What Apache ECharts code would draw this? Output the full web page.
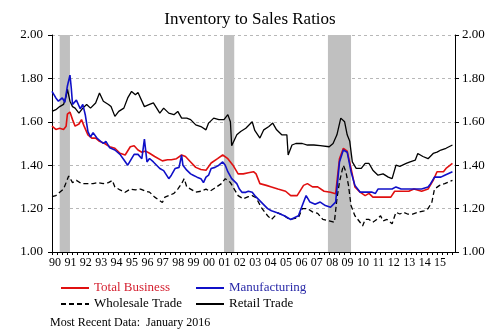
<!DOCTYPE html>
<html><head><meta charset="utf-8">
<script src="https://cdn.jsdelivr.net/npm/echarts@6/dist/echarts.min.js"></script>
<style>html,body{margin:0;padding:0;background:#fff}#c{width:500px;height:335px}</style>
</head><body><div id="c"></div>
<script>
// Values (monthly dates, ratio)
const totalBusiness = [
['1990-01',1.58],['1990-04',1.565],['1990-07',1.57],['1990-10',1.565],['1990-12',1.58],
['1991-01',1.635],['1991-03',1.645],['1991-05',1.61],['1991-07',1.58],['1991-10',1.59],['1991-12',1.61],
['1992-02',1.58],['1992-05',1.54],['1992-08',1.525],['1992-11',1.525],
['1993-02',1.51],['1993-06',1.50],['1993-10',1.485],
['1994-02',1.478],['1994-06',1.455],['1994-10',1.447],
['1995-02',1.485],['1995-05',1.49],['1995-08',1.47],['1995-11',1.46],
['1996-02',1.465],['1996-05',1.455],['1996-09',1.44],
['1997-03',1.42],['1997-07',1.425],['1997-10',1.425],
['1998-02',1.43],['1998-06',1.447],['1998-09',1.44],
['1999-01',1.415],['1999-05',1.39],['1999-09',1.38],
['2000-01',1.377],['2000-05',1.41],['2000-10',1.43],
['2001-02',1.447],['2001-06',1.43],['2001-10',1.40],
['2002-02',1.36],['2002-06',1.36],['2002-10',1.365],
['2003-02',1.37],['2003-04',1.36],['2003-07',1.315],['2003-12',1.307],
['2004-04',1.30],['2004-09',1.29],
['2005-03',1.28],['2005-07',1.26],['2005-12',1.26],
['2006-05',1.307],['2006-08',1.315],['2006-12',1.30],
['2007-04',1.30],['2007-09',1.28],
['2008-02',1.275],['2008-06',1.268],['2008-09',1.43],['2008-12',1.478],
['2009-03',1.465],['2009-06',1.385],['2009-09',1.30],
['2010-01',1.276],['2010-05',1.26],['2010-08',1.27],['2010-11',1.253],
['2011-05',1.253],['2012-01',1.253],['2012-04',1.28],['2012-09',1.28],
['2013-03',1.28],['2013-07',1.29],['2014-01',1.28],['2014-06',1.29],['2014-10',1.33],
['2015-01',1.37],['2015-06',1.37],['2015-08',1.385],['2016-01',1.408]
];
const manufacturing = [
['1990-01',1.74],['1990-04',1.71],['1990-06',1.695],['1990-09',1.71],['1990-11',1.69],
['1991-01',1.765],['1991-03',1.815],['1991-04',1.757],['1991-05',1.68],['1991-08',1.70],['1991-11',1.66],
['1992-01',1.68],['1992-03',1.63],['1992-05',1.555],['1992-07',1.53],['1992-09',1.55],['1992-12',1.525],
['1993-02',1.515],['1993-05',1.50],['1993-07',1.51],['1993-10',1.48],
['1994-02',1.47],['1994-06',1.45],['1994-09',1.425],['1994-12',1.40],
['1995-03',1.43],['1995-05',1.45],['1995-08',1.45],['1995-11',1.43],
['1996-01',1.52],['1996-03',1.415],['1996-05',1.431],['1996-08',1.415],
['1997-01',1.385],['1997-04',1.375],['1997-08',1.338],['1997-10',1.354],
['1998-01',1.385],['1998-04',1.39],['1998-06',1.447],['1998-07',1.40],['1998-10',1.377],
['1999-01',1.36],['1999-03',1.354],['1999-06',1.345],['1999-09',1.338],['1999-11',1.32],
['2000-01',1.345],['2000-03',1.354],['2000-05',1.385],['2000-08',1.39],['2000-11',1.40],
['2001-02',1.415],['2001-04',1.40],['2001-06',1.37],['2001-09',1.338],
['2002-01',1.315],['2002-03',1.29],['2002-05',1.275],['2002-08',1.275],['2002-10',1.28],
['2003-01',1.275],['2003-03',1.26],['2003-08',1.23],
['2004-01',1.20],['2004-04',1.19],['2004-09',1.18],
['2005-02',1.167],['2005-07',1.15],['2006-01',1.167],['2006-04',1.214],['2006-07',1.26],['2006-10',1.23],
['2007-02',1.22],['2007-06',1.23],['2007-10',1.214],
['2008-02',1.206],['2008-06',1.23],['2008-09',1.415],['2008-12',1.47],
['2009-03',1.46],['2009-06',1.37],['2009-09',1.307],
['2010-01',1.276],['2010-06',1.276],['2010-10',1.276],
['2011-01',1.27],['2011-03',1.29],['2011-09',1.29],
['2012-02',1.29],['2012-05',1.30],['2012-09',1.29],
['2013-03',1.29],['2013-08',1.29],['2014-01',1.29],['2014-06',1.30],['2014-08',1.315],['2014-11',1.345],
['2015-04',1.345],['2015-07',1.354],['2016-01',1.37]
];
const wholesaleTrade = [
['1990-01',1.255],['1990-04',1.26],['1990-07',1.275],['1990-10',1.29],['1990-12',1.32],
['1991-02',1.35],['1991-05',1.32],['1991-08',1.33],['1991-12',1.315],
['1992-04',1.315],['1992-09',1.315],
['1993-01',1.32],['1993-05',1.315],['1993-09',1.32],['1993-12',1.33],
['1994-02',1.30],['1994-06',1.286],['1994-10',1.275],
['1995-02',1.29],['1995-06',1.286],['1995-10',1.29],
['1996-02',1.28],['1996-05',1.276],['1996-09',1.253],
['1997-03',1.228],['1997-05',1.253],['1997-08',1.26],['1997-12',1.27],
['1998-03',1.29],['1998-06',1.315],['1998-08',1.338],['1998-10',1.30],
['1999-01',1.29],['1999-05',1.276],['1999-09',1.28],
['2000-01',1.29],['2000-04',1.28],['2000-08',1.295],
['2001-01',1.315],['2001-04',1.338],['2001-08',1.32],['2001-11',1.29],
['2002-02',1.26],['2002-06',1.245],['2002-10',1.255],
['2003-01',1.26],['2003-04',1.25],['2003-08',1.206],
['2004-01',1.167],['2004-04',1.15],['2004-09',1.18],
['2005-02',1.167],['2005-06',1.15],
['2006-01',1.158],['2006-04',1.20],['2006-08',1.20],['2006-12',1.185],
['2007-04',1.178],['2007-08',1.15],
['2008-01',1.143],['2008-05',1.137],['2008-07',1.245],['2008-09',1.323],['2008-12',1.40],
['2009-02',1.37],['2009-04',1.307],['2009-06',1.214],['2009-09',1.167],
['2010-01',1.137],['2010-03',1.12],['2010-05',1.15],['2010-08',1.15],['2010-11',1.137],
['2011-02',1.15],['2011-05',1.167],['2011-07',1.143],['2011-10',1.15],
['2012-02',1.13],['2012-05',1.183],['2012-08',1.175],['2012-11',1.183],
['2013-02',1.175],['2013-06',1.175],['2013-10',1.183],
['2014-03',1.19],['2014-06',1.20],['2014-09',1.23],['2014-11',1.29],
['2015-03',1.307],['2015-07',1.315],['2016-01',1.33]
];
const retailTrade = [
['1990-01',1.648],['1990-04',1.656],['1990-07',1.67],['1990-10',1.68],['1990-12',1.718],
['1991-01',1.75],['1991-03',1.695],['1991-05',1.67],['1991-07',1.663],['1991-10',1.64],
['1992-01',1.663],['1992-04',1.68],['1992-07',1.663],['1992-11',1.687],
['1993-02',1.733],['1993-05',1.695],['1993-09',1.68],['1993-11',1.67],
['1994-02',1.625],['1994-05',1.648],['1994-09',1.663],['1994-12',1.71],
['1995-03',1.74],['1995-06',1.725],['1995-08',1.735],
['1996-01',1.67],['1996-05',1.68],['1996-08',1.687],
['1997-01',1.64],['1997-04',1.663],['1997-08',1.64],['1997-12',1.633],
['1998-03',1.648],['1998-06',1.617],['1998-10',1.617],
['1999-01',1.61],['1999-05',1.586],['1999-09',1.578],
['2000-01',1.563],['2000-03',1.594],['2000-07',1.617],['2000-11',1.61],
['2001-03',1.61],['2001-06',1.633],['2001-08',1.60],['2001-09',1.49],
['2002-01',1.54],['2002-04',1.555],['2002-08',1.57],
['2003-01',1.60],['2003-03',1.56],['2003-07',1.525],['2003-10',1.563],
['2004-02',1.578],['2004-05',1.594],['2004-08',1.563],['2004-12',1.54],
['2005-04',1.54],['2005-05',1.447],['2005-08',1.493],['2005-11',1.50],
['2006-04',1.50],['2006-08',1.493],['2007-01',1.493],['2007-06',1.49],
['2008-01',1.485],['2008-04',1.50],['2008-07',1.54],['2008-10',1.617],
['2009-01',1.60],['2009-03',1.54],['2009-05',1.51],['2009-07',1.415],['2009-10',1.385],
['2010-02',1.385],['2010-05',1.408],['2010-08',1.408],['2010-11',1.377],
['2011-03',1.354],['2011-07',1.36],['2011-11',1.345],
['2012-02',1.338],['2012-05',1.40],['2012-08',1.395],
['2013-01',1.408],['2013-04',1.415],['2013-08',1.423],['2013-10',1.454],
['2014-02',1.44],['2014-06',1.43],['2014-10',1.454],
['2015-01',1.46],['2015-04',1.47],['2015-08',1.478],['2016-01',1.493]
];
const recessions = [['1990-07','1991-03'],['2001-03','2001-11'],['2007-12','2009-06']];
const axisStart = '1990-01';
const axisEnd = '2016-03';
const yTicks = [1.00, 1.20, 1.40, 1.60, 1.80, 2.00];

const FONT = 'Liberation Serif';
function m(d){ const p = d.split('-').map(Number); const s = axisStart.split('-').map(Number); return (p[0]-s[0])*12 + (p[1]-s[1]); }
const conv = arr => arr.map(p => [m(p[0]), p[1]]);
const xMax = m(axisEnd);
const lastLabel = m('2015-01');

const yAxisCommon = {
  type:'value', min:yTicks[0], max:yTicks[yTicks.length-1], interval:0.2,
  axisLine:{show:true, lineStyle:{color:'#000', width:1}},
  axisTick:{show:true, length:4, lineStyle:{color:'#000'}},
  axisLabel:{formatter:v=>v.toFixed(2), fontFamily:FONT, fontSize:13, color:'#000'}
};
const legendCommon = {orient:'vertical', top:276, itemWidth:28, itemHeight:14, itemGap:2,
  itemStyle:{opacity:0},
  textStyle:{fontFamily:FONT, fontSize:13, color:'#000', lineHeight:14}};

const chart = echarts.init(document.getElementById('c'), null, {renderer:'canvas'});
chart.setOption({
  animation:false,
  backgroundColor:'#fff',
  title:{text:'Inventory to Sales Ratios', left:'center', top:6,
    textStyle:{fontFamily:FONT, fontSize:17, fontWeight:'normal', color:'#000'}},
  grid:{left:52, right:45, top:35, bottom:83},
  xAxis:{type:'value', min:0, max:xMax, interval:4,
    axisLine:{show:true, onZero:false, lineStyle:{color:'#000'}},
    axisTick:{show:true, length:3, lineStyle:{color:'#000'}},
    splitLine:{show:false},
    axisLabel:{fontFamily:FONT, fontSize:12, color:'#000', margin:5, padding:[0,0,0,6],
      showMaxLabel:false,
      formatter:v => (v%12===0 && v<=lastLabel) ? String((1990+v/12)%100).padStart(2,'0') : ''}},
  yAxis:[
    Object.assign({}, yAxisCommon, {position:'left',
      splitLine:{show:true, lineStyle:{color:'#b8b8b8', type:[3,3], width:1}},
      axisLabel:Object.assign({}, yAxisCommon.axisLabel, {margin:9})}),
    Object.assign({}, yAxisCommon, {position:'right', splitLine:{show:false},
      axisLabel:Object.assign({}, yAxisCommon.axisLabel, {margin:7})})
  ],
  legend:[
    Object.assign({}, legendCommon, {left:55,
     data:[{name:'Total Business', textStyle:{color:'#d42030'}}, 'Wholesale Trade']}),
    Object.assign({}, legendCommon, {left:190,
     data:[{name:'Manufacturing', textStyle:{color:'#2a2aa8'}}, 'Retail Trade']})
  ],
  graphic:[{type:'text', left:50, top:317,
    style:{text:'Most Recent Data:  January 2016', font:'12px "Liberation Serif"', fill:'#000'}}],
  series:[
    {name:'recessions', type:'line', data:[], silent:true, z:1,
     markArea:{silent:true, itemStyle:{color:'#c0c0c0'},
       data:recessions.map(r=>[{xAxis:m(r[0])},{xAxis:m(r[1])}])}},
    {name:'Total Business', type:'line', z:3, symbol:'none', data:conv(totalBusiness),
     color:'#e01010', lineStyle:{width:1.6, color:'#e01010'}},
    {name:'Manufacturing', type:'line', z:4, symbol:'none', data:conv(manufacturing),
     color:'#1010c8', lineStyle:{width:1.6, color:'#1010c8'}},
    {name:'Wholesale Trade', type:'line', z:3, symbol:'none', data:conv(wholesaleTrade),
     color:'#000', lineStyle:{width:1.3, color:'#000', type:[5,3]}},
    {name:'Retail Trade', type:'line', z:3, symbol:'none', data:conv(retailTrade),
     color:'#000', lineStyle:{width:1.3, color:'#000'}}
  ]
});
</script></body></html>
